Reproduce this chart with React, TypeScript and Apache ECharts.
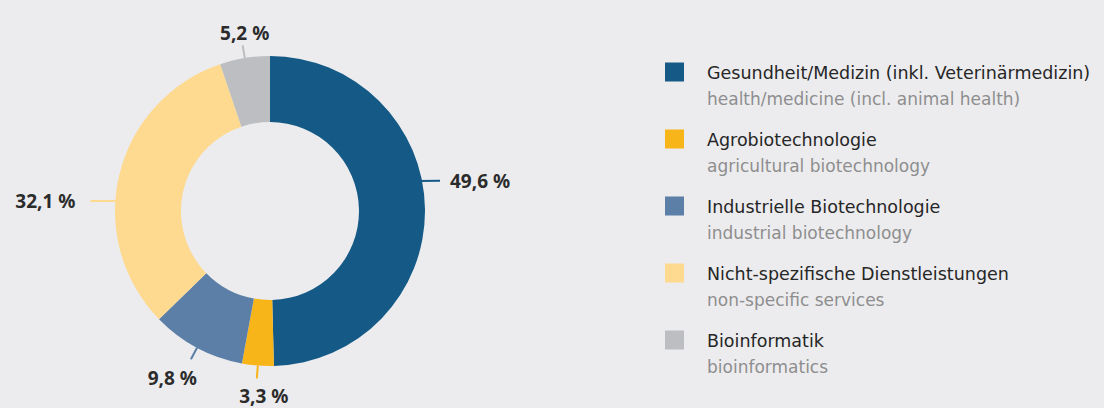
import React, { useEffect, useRef } from 'react';
import * as echarts from 'echarts';

const categoriesDe = [
  'Gesundheit/Medizin (inkl. Veterinärmedizin)',
  'Agrobiotechnologie',
  'Industrielle Biotechnologie',
  'Nicht-spezifische Dienstleistungen',
  'Bioinformatik',
];
const categoriesEn = [
  'health/medicine (incl. animal health)',
  'agricultural biotechnology',
  'industrial biotechnology',
  'non-specific services',
  'bioinformatics',
];
const shares = [49.6, 3.3, 9.8, 32.1, 5.2];
const colors = ['#155a87', '#f7b519', '#5b7fa7', '#fed990', '#bcbec1'];

// label styling (placement relative to the leader line end)
const labelShiftY = [-28, 0, 0, 27, 0];
const labelPlacement = ['right', 'bottom', 'bottomLeft', 'left', 'top'];
const labelLineLen = [
  [15, 0],
  [13, 0],
  [13, 0],
  [4, 25],
  [13, 0],
];

const BG = '#ececee';
const FONT = '"Noto Sans", "Open Sans", sans-serif';
const LEGEND_FONT = '"DejaVu Sans", "Noto Sans", sans-serif';

function fmt(v: number) {
  return v.toFixed(1).replace('.', ',') + ' %';
}

export default function App() {
  const ref = useRef<HTMLDivElement>(null);

  useEffect(() => {
    document.body.style.margin = '0';
    document.body.style.background = BG;
    if (!ref.current) return;
    const chart = echarts.init(ref.current, undefined, { renderer: 'svg' });

    const legendGraphics: any[] = [];
    const legendX = 665;
    const legendTop = 72;
    const legendGap = 67;
    categoriesDe.forEach((name, i) => {
      const cy = legendTop + i * legendGap;
      legendGraphics.push({
        type: 'rect',
        shape: { x: legendX, y: cy - 9.5, width: 19, height: 19 },
        style: { fill: colors[i] },
      });
      legendGraphics.push({
        type: 'text',
        x: legendX + 42,
        y: cy + 1,
        style: {
          text: name,
          fill: '#262626',
          font: `17.5px ${LEGEND_FONT}`,
          verticalAlign: 'middle',
        },
      });
      legendGraphics.push({
        type: 'text',
        x: legendX + 42,
        y: cy + 27,
        style: {
          text: categoriesEn[i],
          fill: '#8e8e8e',
          font: `17px ${LEGEND_FONT}`,
          verticalAlign: 'middle',
        },
      });
    });

    chart.setOption({
      animation: false,
      backgroundColor: BG,
      graphic: legendGraphics,
      series: [
        {
          type: 'pie',
          center: [270, 211],
          radius: [89, 155],
          startAngle: 90,
          clockwise: true,
          avoidLabelOverlap: false,
          silent: true,
          emphasis: { disabled: true },
          itemStyle: { borderWidth: 0 },
          label: {
            show: true,
            position: 'outside',
            formatter: (p: any) => fmt(p.value),
            color: '#2b2b2b',
            fontFamily: FONT,
            fontWeight: 'bold',
            fontSize: 19,
          },
          labelLine: {
            show: true,
            smooth: false,
            lineStyle: { width: 2 },
          },
          labelLayout: (p: any) => {
            const i = p.dataIndex;
            const pts = p.labelLinePoints;
            if (!pts) return {};
            const dy = labelShiftY[i];
            const shifted = pts.map((q: number[]) => [q[0], q[1] + dy]);
            const end = shifted[shifted.length - 1];
            if (dy !== 0) {
              const dir = Math.sign(end[0] - shifted[0][0]);
              shifted[0][0] -= dir * 6;
            }
            const pl = labelPlacement[i];
            if (pl === 'right') {
              return { x: end[0] + 10, y: end[1], align: 'left', verticalAlign: 'middle', labelLinePoints: shifted };
            }
            if (pl === 'left') {
              return { x: end[0] - 15, y: end[1], align: 'right', verticalAlign: 'middle', labelLinePoints: shifted };
            }
            if (pl === 'top') {
              return { x: end[0] + 2, y: end[1] - 3, align: 'center', verticalAlign: 'bottom', labelLinePoints: shifted };
            }
            if (pl === 'bottom') {
              return { x: end[0] + 7, y: end[1] + 8, align: 'center', verticalAlign: 'top', labelLinePoints: shifted };
            }
            return { x: end[0] + 6, y: end[1] + 9, align: 'right', verticalAlign: 'top', labelLinePoints: shifted };
          },
          data: shares.map((v, i) => ({
            name: categoriesDe[i],
            value: v,
            itemStyle: { color: colors[i] },
            labelLine: { length: labelLineLen[i][0], length2: labelLineLen[i][1] },
          })),
        },
      ],
    });

    return () => chart.dispose();
  }, []);

  return <div ref={ref} style={{ width: 1104, height: 408, background: BG }} />;
}
